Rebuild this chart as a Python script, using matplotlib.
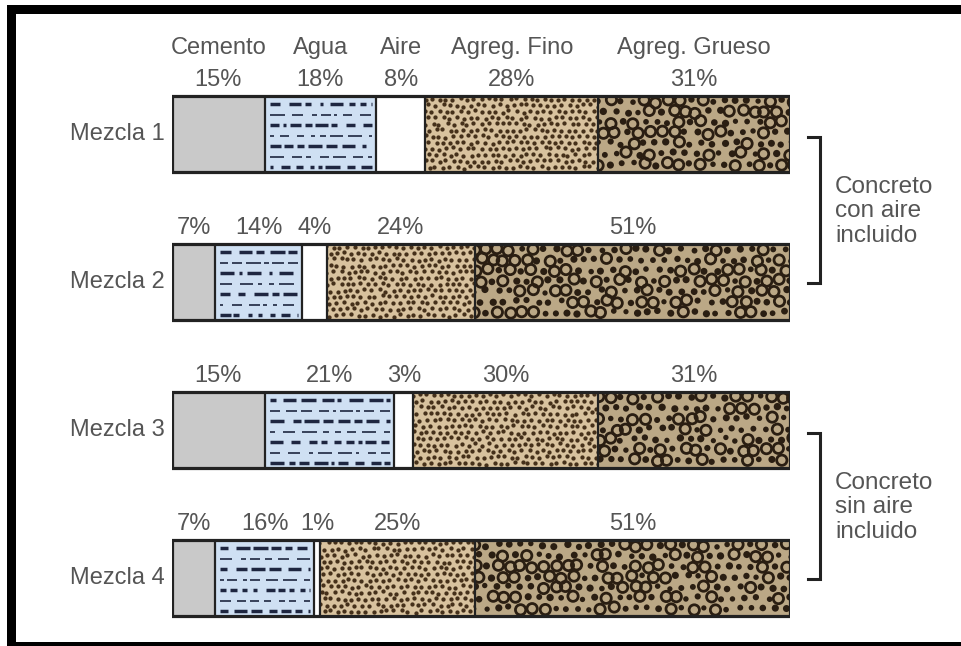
import numpy as np
import matplotlib.pyplot as plt
from matplotlib.patches import Rectangle

# Composición de mezclas de concreto (% en volumen)
mezclas = ["Mezcla 1", "Mezcla 2", "Mezcla 3", "Mezcla 4"]
componentes = ["Cemento", "Agua", "Aire", "Agreg. Fino", "Agreg. Grueso"]
cemento = [15, 7, 15, 7]
agua = [18, 14, 21, 16]
aire = [8, 4, 3, 1]
agreg_fino = [28, 24, 30, 25]
agreg_grueso = [31, 51, 31, 51]
grupos = ["Concreto\ncon aire\nincluido", "Concreto\nsin aire\nincluido"]
grupo_filas = [(0, 1), (2, 3)]

W, H = 961, 646
X0, XW = 172, 618          # bar span in pixels
PX = XW / 100.0            # pixels per percent
PY = 148.0                 # pixels per row
BH = 76 / PY               # bar height in row units
TXT = "#555555"
EDGE = "#222222"
FONT = "Liberation Sans"

plt.rcParams["font.family"] = [FONT, "DejaVu Sans"]

fig = plt.figure(figsize=(W / 100, H / 100), dpi=100)
ax = fig.add_axes([X0 / W, 0, XW / W, 1])
ax.set_xlim(0, 100)
ax.set_ylim((H - 134) / PY, -134 / PY)
ax.axis("off")

tex = np.random.default_rng(7)


def grid_pts(w_px, h_px, step_x, step_y, jit):
    xs, ys = [], []
    for j, yy in enumerate(np.arange(step_y / 2, h_px, step_y)):
        off = (step_x / 2) * (j % 2)
        for xx in np.arange(off, w_px + step_x, step_x):
            xs.append(xx + tex.uniform(-jit, jit))
            ys.append(yy + tex.uniform(-jit, jit))
    return np.array(xs), np.array(ys)


def textura(rect, x0, w, ytop, kind):
    w_px, h_px = w * PX, BH * PY
    arts = []
    if kind == "agua":
        rows = np.arange(8, h_px - 4, 10.5)
        for k, ry in enumerate(rows):
            thick = k % 2 == 0
            xx = 5.0
            while xx < w_px - 3:
                L = tex.uniform(3, 15)
                seg = [x0 + xx / PX, x0 + min(xx + L, w_px - 4) / PX]
                arts += ax.plot(seg, [ytop + ry / PY] * 2, color="#1e2640",
                                lw=2.5 if thick else 1.2, solid_capstyle="butt")
                xx += L + tex.uniform(2.5, 9)
    elif kind == "fino":
        xs, ys = grid_pts(w_px, h_px, 7.0, 6.2, 1.4)
        arts.append(ax.scatter(x0 + xs / PX, ytop + ys / PY, s=9.5,
                               color="#45301a", linewidths=0))
    elif kind == "grueso":
        xs, ys = grid_pts(w_px, h_px, 11.5, 10.5, 1.8)
        pick = tex.random(len(xs))
        ring = pick < 0.38
        blob = ~ring
        arts.append(ax.scatter(x0 + xs[blob] / PX, ytop + ys[blob] / PY,
                               s=tex.uniform(14, 28, blob.sum()),
                               color="#2a1e12", linewidths=0))
        arts.append(ax.scatter(x0 + xs[ring] / PX, ytop + ys[ring] / PY,
                               s=55, facecolors="none", edgecolors="#2a1e12",
                               linewidths=2.0))
    for a in arts:
        a.set_clip_path(rect)


estilos = {
    "cemento": "#c9c9c9",
    "agua": "#cfe0f3",
    "aire": "#ffffff",
    "fino": "#d8c29e",
    "grueso": "#bba886",
}
claves = ["cemento", "agua", "aire", "fino", "grueso"]
series = [cemento, agua, aire, agreg_fino, agreg_grueso]

for i, nombre in enumerate(mezclas):
    vals = [s[i] for s in series]
    ytop = i - BH / 2
    left = 0.0
    for v, k in zip(vals, claves):
        rect = Rectangle((left, ytop), v, BH, facecolor=estilos[k],
                         edgecolor="none", zorder=1)
        ax.add_patch(rect)
        textura(rect, left, v, ytop, k)
        ax.text(left + v / 2, i - 0.365, f"{v}%", ha="center", va="center",
                fontsize=17, color=TXT)
        if i == 0:
            ax.text(left + v / 2, i - 0.581, componentes[claves.index(k)],
                    ha="center", va="center", fontsize=17, color=TXT)
        left += v
    bounds = np.cumsum(vals)[:-1]
    ax.vlines(bounds, ytop, ytop + BH, color=EDGE, lw=1.6, zorder=4)
    ax.add_patch(Rectangle((0, ytop), left, BH, fill=False, edgecolor=EDGE,
                           lw=2.3, zorder=5))
    ax.text(-1.1, i, nombre, ha="right", va="center", fontsize=17, color=TXT)

# brackets grouping the mixes
bx = (820 - X0) / PX
tick = 12 / PX
for label, (a, b) in zip(grupos, grupo_filas):
    ya, yb = a + 0.02, b + 0.005
    ax.plot([bx - tick, bx, bx, bx - tick], [ya, ya, yb, yb], color=EDGE,
            lw=2.2, clip_on=False, solid_joinstyle="miter")
    ax.text((835 - X0) / PX, (ya + yb) / 2 + 0.01, label, ha="left",
            va="center", fontsize=17.5, color=TXT, linespacing=1.13)

# black frame
fig.add_artist(Rectangle((7 / W, (H - 14) / H), (W - 7) / W, 9 / H,
                         transform=fig.transFigure, color="black", lw=0))
fig.add_artist(Rectangle((7 / W, 0), 9 / W, (H - 5) / H,
                         transform=fig.transFigure, color="black", lw=0))
fig.add_artist(Rectangle((7 / W, 0), (W - 7) / W, 4 / H,
                         transform=fig.transFigure, color="black", lw=0))

fig.savefig("out.png", dpi=100, facecolor="white")
